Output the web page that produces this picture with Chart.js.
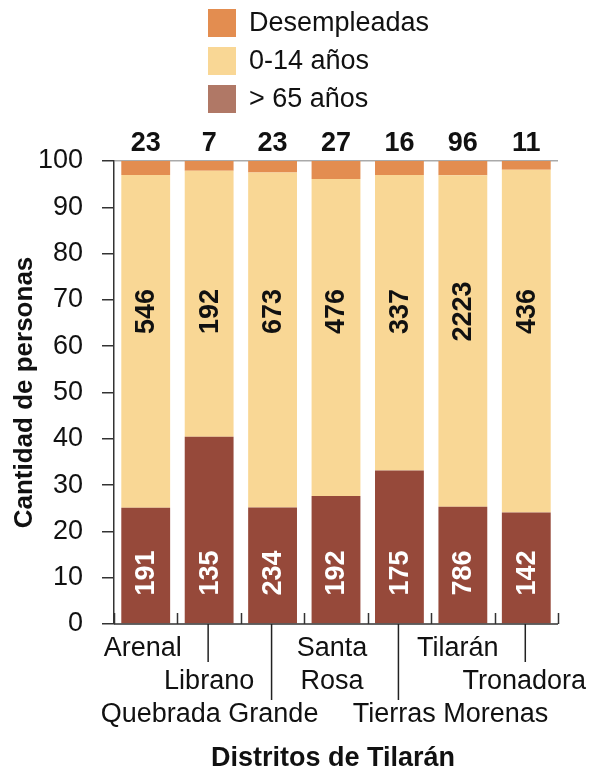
<!DOCTYPE html>
<html>
<head>
<meta charset="utf-8">
<script src="https://cdn.jsdelivr.net/npm/chart.js@4.4.1/dist/chart.umd.min.js"></script>
<style>
  html, body { margin: 0; padding: 0; background: #fff; }
  #wrap { width: 596px; height: 773px; }
</style>
</head>
<body>
<div id="wrap"><canvas id="chart"></canvas></div>
<script>
// Población por distrito de Tilarán (conteos por grupo)
const distritos = ["Arenal", "Librano", "Quebrada Grande", ["Santa", "Rosa"], "Tierras Morenas", "Tilarán", "Tronadora"];
const mayores65 = [191, 135, 234, 192, 175, 786, 142];
const ninos014 = [546, 192, 673, 476, 337, 2223, 436];
const desempleadas = [23, 7, 23, 27, 16, 96, 11];

const totales = distritos.map((_, i) => mayores65[i] + ninos014[i] + desempleadas[i]);
const pct = (arr) => arr.map((v, i) => (v / totales[i]) * 100);

const font = "'Liberation Sans', Arial, sans-serif";
const colors = { mayores: "#96493a", ninos: "#f9d795", desemp: "#e38d50", mayoresLegend: "#b07866" };

// staggered category labels: row per label and horizontal nudge
const labelRow = [0, 1, 2, 0, 2, 0, 1];
const labelShift = [-3, 0, -63, -4, 51, -5, -2];

const decor = {
  id: "decor",
  afterDraw(chart) {
    const { ctx, chartArea: a, scales: { x, y } } = chart;
    const n = distritos.length;
    const step = a.width / n;
    ctx.save();

    // x axis line and small upward ticks between categories
    ctx.strokeStyle = "#333";
    ctx.lineWidth = 1.5;
    ctx.beginPath();
    ctx.moveTo(a.left, a.bottom);
    ctx.lineTo(a.right, a.bottom);
    for (let i = 0; i <= n; i++) {
      const bx = Math.round(a.left + i * step) + 0.5;
      ctx.moveTo(bx, a.bottom);
      ctx.lineTo(bx, a.bottom - 11);
    }
    ctx.stroke();

    // category labels with leader lines
    ctx.fillStyle = "#111";
    ctx.font = `27px ${font}`;
    ctx.textAlign = "center";
    ctx.textBaseline = "middle";
    distritos.forEach((lab, i) => {
      const cx = x.getPixelForValue(i);
      const row = labelRow[i];
      const lines = Array.isArray(lab) ? lab : [lab];
      lines.forEach((t, j) => {
        ctx.fillText(t, cx + labelShift[i], a.bottom + 25 + 33 * (row + j));
      });
      if (row > 0) {
        ctx.beginPath();
        ctx.moveTo(cx - 1, a.bottom);
        ctx.lineTo(cx - 1, a.bottom + 38 * row);
        ctx.strokeStyle = "#222";
        ctx.stroke();
      }
    });

    // x axis title
    ctx.font = `bold 27px ${font}`;
    ctx.fillText("Distritos de Tilarán", (a.left + a.right) / 2 - 3, a.bottom + 135);

    // value labels
    const metaTop = chart.getDatasetMeta(2);
    distritos.forEach((_, i) => {
      const bx = metaTop.data[i].x;
      ctx.fillStyle = "#111";
      ctx.fillText(String(desempleadas[i]), bx, a.top - 17);

      ctx.save();
      ctx.translate(bx, y.getPixelForValue(67.5));
      ctx.rotate(-Math.PI / 2);
      ctx.fillText(String(ninos014[i]), 0, 1);
      ctx.restore();

      ctx.save();
      ctx.translate(bx, y.getPixelForValue(11));
      ctx.rotate(-Math.PI / 2);
      ctx.fillStyle = "#fff";
      ctx.fillText(String(mayores65[i]), 0, 1);
      ctx.restore();
    });

    // legend, stacked vertically
    const items = [
      ["Desempleadas", colors.desemp],
      ["0-14 años", colors.ninos],
      ["> 65 años", colors.mayoresLegend],
    ];
    ctx.font = `27px ${font}`;
    ctx.textAlign = "left";
    items.forEach(([t, c], k) => {
      const top = 9 + k * 38;
      ctx.fillStyle = c;
      ctx.fillRect(208, top, 28, 28);
      ctx.fillStyle = "#111";
      ctx.fillText(t, 249, top + 15);
    });

    ctx.restore();
  },
};

new Chart(document.getElementById("chart"), {
  type: "bar",
  data: {
    labels: distritos,
    datasets: [
      { label: "> 65 años", data: pct(mayores65), backgroundColor: colors.mayores },
      { label: "0-14 años", data: pct(ninos014), backgroundColor: colors.ninos },
      { label: "Desempleadas", data: pct(desempleadas), backgroundColor: colors.desemp },
    ],
  },
  options: {
    responsive: true,
    maintainAspectRatio: false,
    animation: false,
    barPercentage: 0.77,
    categoryPercentage: 1,
    layout: { padding: { top: 161, bottom: 149, left: 0, right: 38 } },
    plugins: { legend: { display: false }, tooltip: { enabled: false } },
    scales: {
      x: { stacked: true, display: false },
      y: {
        stacked: true,
        min: 0,
        max: 100,
        afterFit: (s) => { s.width = 114; },
        ticks: { stepSize: 10, color: "#111", font: { family: font, size: 27 }, padding: 19 },
        grid: {
          color: (c) => (c.tick && c.tick.value === 100 ? "#aaaaaa" : "rgba(0,0,0,0)"),
          lineWidth: 1.5,
          tickLength: 12,
          tickColor: "#333",
          tickWidth: 1.5,
        },
        border: { color: "#333", width: 1.5 },
        title: {
          display: true,
          text: "Cantidad de personas",
          color: "#111",
          font: { family: font, size: 26, weight: "bold" },
          padding: { top: 9, bottom: 0 },
        },
      },
    },
  },
  plugins: [decor],
});
</script>
</body>
</html>
